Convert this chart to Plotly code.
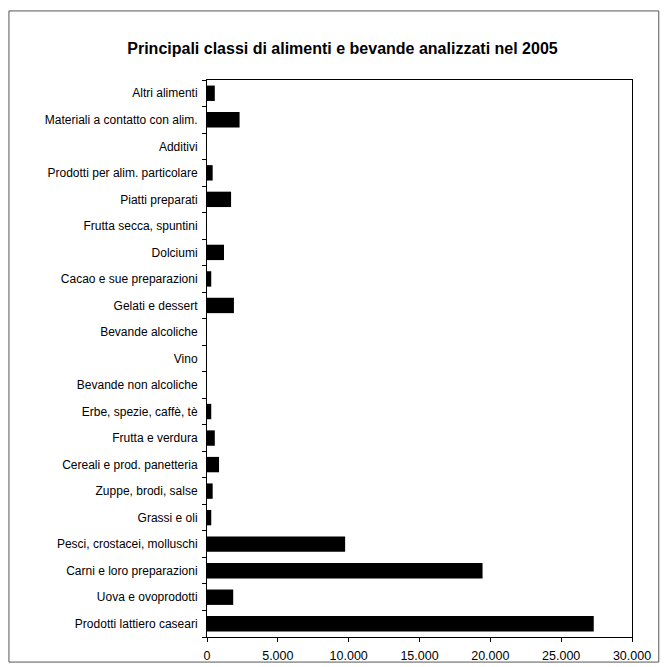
import plotly.graph_objects as go

categories = [
    "Prodotti lattiero caseari",
    "Uova e ovoprodotti",
    "Carni e loro preparazioni",
    "Pesci, crostacei, molluschi",
    "Grassi e oli",
    "Zuppe, brodi, salse",
    "Cereali e prod. panetteria",
    "Frutta e verdura",
    "Erbe, spezie, caffè, tè",
    "Bevande non alcoliche",
    "Vino",
    "Bevande alcoliche",
    "Gelati e dessert",
    "Cacao e sue preparazioni",
    "Dolciumi",
    "Frutta secca, spuntini",
    "Piatti preparati",
    "Prodotti per alim. particolare",
    "Additivi",
    "Materiali a contatto con alim.",
    "Altri alimenti",
]
values = [27300, 1850, 19450, 9750, 300, 400, 850, 550, 300, 0, 0, 0,
          1900, 300, 1200, 0, 1700, 400, 0, 2300, 550]
x_ticks = [0, 5000, 10000, 15000, 20000, 25000, 30000]

title = "Principali classi di alimenti e bevande analizzati nel 2005"

fig = go.Figure(go.Bar(
    y=categories, x=values, orientation="h",
    marker=dict(color="#000000", line=dict(width=0)),
))

fig.update_layout(
    width=665, height=667,
    paper_bgcolor="white", plot_bgcolor="white",
    margin=dict(l=207, r=33, t=80, b=30),
    bargap=0.42,
    showlegend=False,
    separators=",.",
    font=dict(family="Liberation Sans, Arial, sans-serif", size=12, color="#000"),
    title=dict(text="<b>" + title + "</b>", x=0.515, xanchor="center",
               y=0.928, yanchor="middle",
               font=dict(size=16, color="#000")),
    shapes=[dict(type="rect", xref="paper", yref="paper",
                 x0=-0.466, x1=1.063, y0=-0.045, y1=1.124,
                 line=dict(color="#555", width=1))],
)
fig.update_xaxes(
    range=[0, 30000], tickvals=x_ticks, tickformat=",d",
    showgrid=False, zeroline=False, automargin=False,
    showline=True, linecolor="#000", linewidth=1, mirror=True,
    ticks="outside", ticklen=4, tickcolor="#000",
    tickfont=dict(size=12.5), ticklabelstandoff=3,
)
fig.update_yaxes(
    categoryorder="array", categoryarray=categories,
    showgrid=False, zeroline=False, automargin=False,
    showline=True, linecolor="#000", linewidth=1, mirror=True,
    ticks="outside", ticklen=4, tickcolor="#000", tickson="boundaries",
    tickfont=dict(size=12), ticklabelstandoff=6,
)

fig.write_html("out.html")
